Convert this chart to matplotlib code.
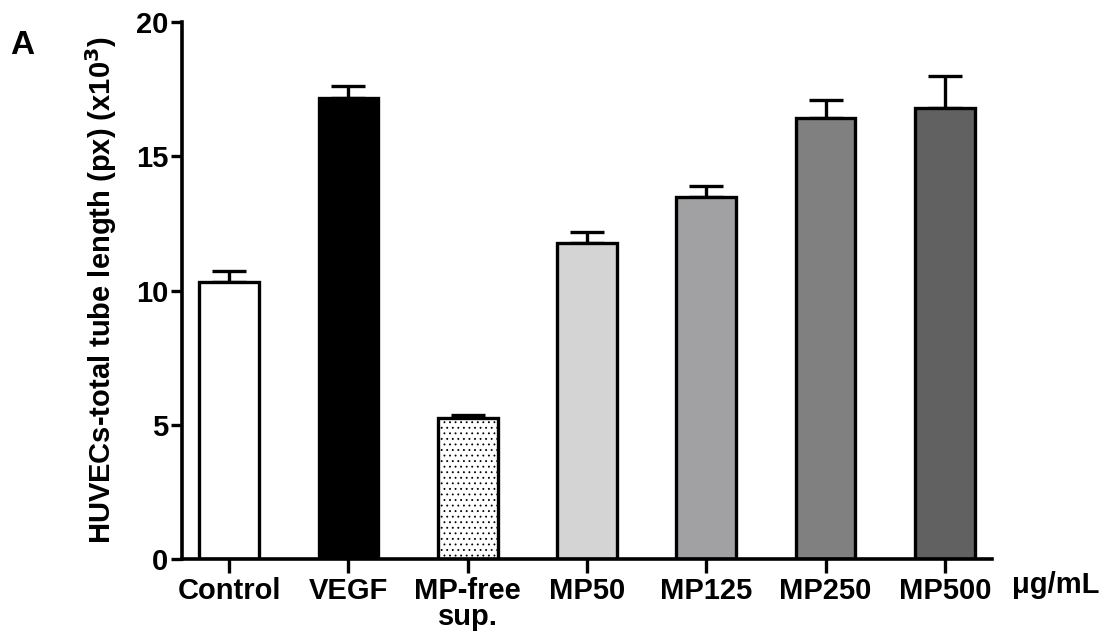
import matplotlib.pyplot as plt
import matplotlib as mpl

# dados (x10^3 px)
grupos = ['Control', 'VEGF', 'MP-free\nsup.', 'MP50', 'MP125', 'MP250', 'MP500']
medias = [10.33, 17.17, 5.24, 11.78, 13.49, 16.43, 16.80]
erros = [0.38, 0.45, 0.11, 0.41, 0.41, 0.67, 1.19]
cores = ['white', 'black', 'white', '#d4d4d4', '#a1a1a4', '#808080', '#616161']
hachuras = ['', '', '...', '', '', '', '']

plt.rcParams['font.family'] = ['Liberation Sans', 'DejaVu Sans']
plt.rcParams['font.weight'] = 'bold'
mpl.rcParams['hatch.linewidth'] = 0.6

fig = plt.figure(figsize=(11.01, 6.33), dpi=100)
ax = fig.add_axes([0.1653, 0.1169, 0.7357, 0.8483])

x = list(range(len(grupos)))
barras = ax.bar(x, medias, width=0.5, color=cores, edgecolor='black',
                linewidth=2.4, zorder=2)
for b, h in zip(barras, hachuras):
    b.set_hatch(h)

ax.errorbar(x, medias, yerr=[[0] * len(erros), erros], fmt='none',
            ecolor='black', elinewidth=2.4, capsize=12, capthick=2.4, zorder=1)

ax.set_xlim(-0.395, 6.395)
ax.set_ylim(0, 20)
ax.set_yticks([0, 5, 10, 15, 20])
ax.set_xticks(x)
ax.set_xticklabels(grupos, fontsize=21, fontweight='bold', linespacing=0.9)
ax.tick_params(axis='y', labelsize=21, width=2.4, length=8, pad=2)
ax.tick_params(axis='x', width=2.4, length=10, pad=3)

for lado in ['top', 'right']:
    ax.spines[lado].set_visible(False)
for lado in ['left', 'bottom']:
    ax.spines[lado].set_linewidth(2.6)

ax.set_ylabel('HUVECs-total tube length (px) (x10$^\\mathbf{3}$)', fontsize=21,
              fontweight='bold', labelpad=12)

fig.text(0.009, 0.915, 'A', fontsize=24, fontweight='bold')
fig.text(0.919, 0.063, '\u03bcg/mL', fontsize=21, fontweight='bold')

plt.savefig('out.png', dpi=100)
